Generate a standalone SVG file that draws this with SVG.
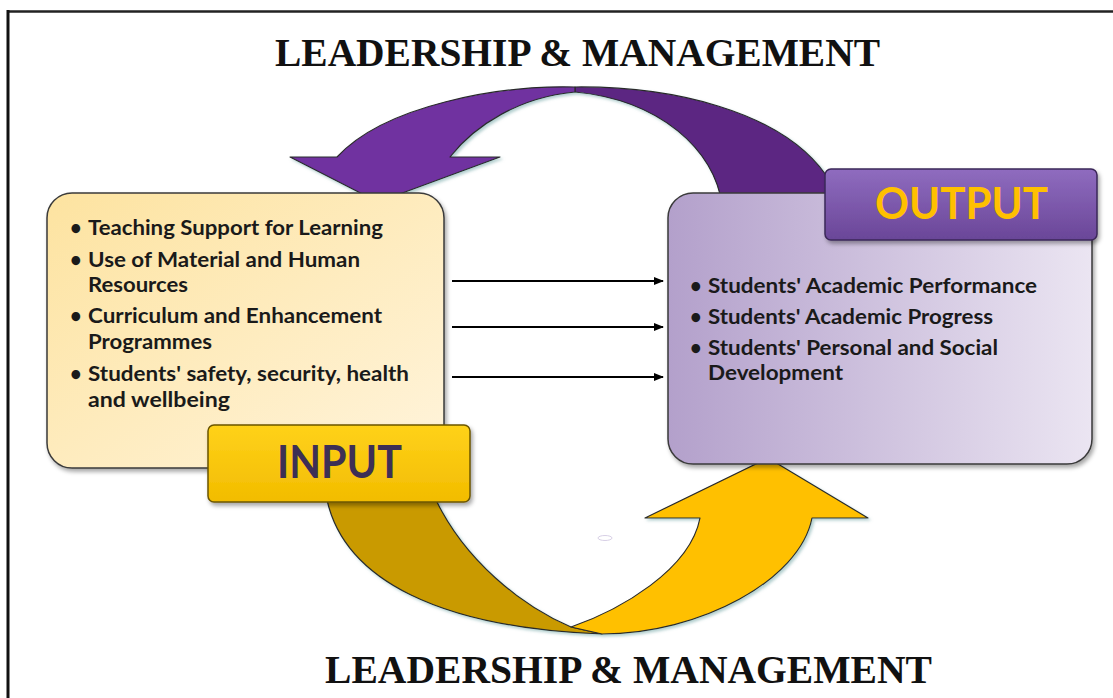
<svg xmlns="http://www.w3.org/2000/svg" width="1113" height="698" viewBox="0 0 1113 698">
<style>
.title{font-family:"Liberation Serif","Times New Roman",serif;font-weight:bold;fill:#111;}
.bul{font-family:Lato,"Liberation Sans",sans-serif;font-weight:bold;font-size:20px;fill:#1a1a1a;}
.lbl{font-family:Lato,"Liberation Sans",sans-serif;font-weight:bold;}
.edge{stroke:#2a2a2a;stroke-width:1.2;stroke-linejoin:round;}
.conn{stroke:#000;stroke-width:2;fill:none;}
</style>
<defs>
<linearGradient id="gIn" x1="0" y1="0" x2="1" y2="1">
<stop offset="0" stop-color="#fde3a0"/>
<stop offset="1" stop-color="#fff4dc"/>
</linearGradient>
<linearGradient id="gOut" x1="0" y1="0" x2="1" y2="0">
<stop offset="0" stop-color="#b3a0cb"/>
<stop offset="1" stop-color="#ebe5f2"/>
</linearGradient>
<linearGradient id="gInL" x1="0" y1="0" x2="0" y2="1">
<stop offset="0" stop-color="#ffd21a"/>
<stop offset="1" stop-color="#f2bc00"/>
</linearGradient>
<linearGradient id="gOutL" x1="0" y1="0" x2="0" y2="1">
<stop offset="0" stop-color="#8f6cbf"/>
<stop offset="1" stop-color="#6a4698"/>
</linearGradient>
<filter id="sh" x="-10%" y="-10%" width="130%" height="130%">
<feDropShadow dx="2" dy="2" stdDeviation="1.5" flood-color="#6fa6a6" flood-opacity="0.55"/>
</filter>
<filter id="bsh" x="-10%" y="-10%" width="130%" height="130%">
<feDropShadow dx="2" dy="3" stdDeviation="2" flood-color="#000" flood-opacity="0.35"/>
</filter>
<marker id="ah" markerWidth="10" markerHeight="8" refX="9" refY="4" orient="auto" markerUnits="userSpaceOnUse">
<path d="M0,0 L10,4 L0,8 Z" fill="#000"/>
</marker>
</defs>
<rect width="1113" height="698" fill="#fff"/>
<g id="frame">
<line x1="7" y1="11.5" x2="1113" y2="11.5" stroke="#222" stroke-width="2.5"/>
<line x1="8" y1="10" x2="8" y2="698" stroke="#111" stroke-width="3"/>
</g>
<g id="title-top">
<text class="title" x="275" y="66" font-size="40" textLength="605" lengthAdjust="spacingAndGlyphs">LEADERSHIP &amp; MANAGEMENT</text>
</g>
<g id="title-bottom">
<text class="title" x="325" y="683" font-size="39" textLength="607" lengthAdjust="spacingAndGlyphs">LEADERSHIP &amp; MANAGEMENT</text>
</g>
<g id="purple-arrow" filter="url(#sh)">
<path class="edge" fill="#5b2882" d="M575,87 C670,86 780,110 826,175 L832,205 L722,205 C715,150 660,100 575,92 Z"/>
<path class="edge" fill="#7030a0" d="M575,87 C500,85 385,105 337,157 L290,157 L378,202 L500,157 L450,157 C475,125 520,97 575,92 Z"/>
</g>
<g id="gold-arrow" filter="url(#sh)">
<path class="edge" fill="#c99a00" d="M325,470 L327,500 C345,580 440,628 602,634 L571,627 C520,605 465,560 436,500 L436,470 Z"/>
<path class="edge" fill="#ffc000" d="M571,627 C620,610 690,570 700,518 L645,518 L768,458 L868,518 L812,518 C800,580 700,634 602,634 Z"/>
</g>
<ellipse cx="605" cy="538" rx="7" ry="2.5" fill="none" stroke="#d8d0e6" stroke-width="1"/>
<g id="input-box">
<rect x="47" y="193" width="397" height="275" rx="25" fill="url(#gIn)" stroke="#3a3a3a" stroke-width="1.5" filter="url(#bsh)"/>
<text class="bul" x="70" y="235">•</text><text class="bul" x="88" y="235" textLength="295" lengthAdjust="spacingAndGlyphs">Teaching Support for Learning</text>
<text class="bul" x="70" y="267">•</text><text class="bul" x="88" y="267" textLength="272" lengthAdjust="spacingAndGlyphs">Use of Material and Human</text>
<text class="bul" x="88" y="292" textLength="100" lengthAdjust="spacingAndGlyphs">Resources</text>
<text class="bul" x="70" y="323">•</text><text class="bul" x="88" y="323" textLength="294" lengthAdjust="spacingAndGlyphs">Curriculum and Enhancement</text>
<text class="bul" x="88" y="349" textLength="124" lengthAdjust="spacingAndGlyphs">Programmes</text>
<text class="bul" x="70" y="381">•</text><text class="bul" x="88" y="381" textLength="321" lengthAdjust="spacingAndGlyphs">Students' safety, security, health</text>
<text class="bul" x="88" y="407" textLength="142" lengthAdjust="spacingAndGlyphs">and wellbeing</text>
</g>
<g id="input-label">
<rect x="208" y="425" width="262" height="77" rx="6" fill="url(#gInL)" stroke="#6b5500" stroke-width="1.5" filter="url(#bsh)"/>
<text class="lbl" x="339.5" y="478" font-size="45" fill="#3d2f55" text-anchor="middle" textLength="125" lengthAdjust="spacingAndGlyphs">INPUT</text>
</g>
<g id="output-box">
<rect x="668" y="193" width="424" height="271" rx="25" fill="url(#gOut)" stroke="#3a3a3a" stroke-width="1.5" filter="url(#bsh)"/>
<text class="bul" x="690" y="293">•</text><text class="bul" x="708" y="293" textLength="329" lengthAdjust="spacingAndGlyphs">Students' Academic Performance</text>
<text class="bul" x="690" y="324">•</text><text class="bul" x="708" y="324" textLength="285" lengthAdjust="spacingAndGlyphs">Students' Academic Progress</text>
<text class="bul" x="690" y="355">•</text><text class="bul" x="708" y="355" textLength="290" lengthAdjust="spacingAndGlyphs">Students' Personal and Social</text>
<text class="bul" x="708" y="380" textLength="135" lengthAdjust="spacingAndGlyphs">Development</text>
</g>
<g id="output-label">
<rect x="825" y="169" width="272" height="71" rx="6" fill="url(#gOutL)" stroke="#3b2858" stroke-width="1.5" filter="url(#bsh)"/>
<text class="lbl" x="961.5" y="219" font-size="43" fill="#ffc000" text-anchor="middle" textLength="173" lengthAdjust="spacingAndGlyphs">OUTPUT</text>
</g>
<g id="connectors">
<line class="conn" x1="452" y1="281" x2="663" y2="281" marker-end="url(#ah)"/>
<line class="conn" x1="452" y1="327" x2="663" y2="327" marker-end="url(#ah)"/>
<line class="conn" x1="452" y1="377" x2="663" y2="377" marker-end="url(#ah)"/>
</g>
</svg>
